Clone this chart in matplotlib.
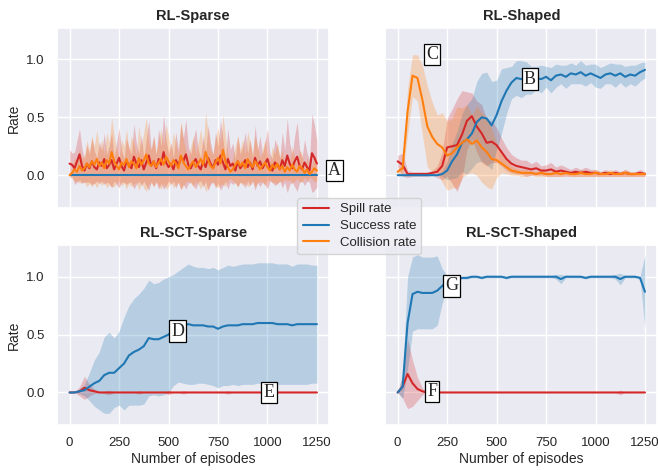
import numpy as np
import matplotlib
matplotlib.use("Agg")
import matplotlib.pyplot as plt
import seaborn as sns

# ---- data ----
titles = ["RL-Sparse", "RL-Shaped", "RL-SCT-Sparse", "RL-SCT-Shaped"]
series_labels = ["Spill rate", "Success rate", "Collision rate"]
xticks = [0, 250, 500, 750, 1000, 1250]
yticks = [0.0, 0.5, 1.0]

# RL-Sparse, every 12.5 episodes
ep_fine = np.linspace(0, 1250, 101)
sparse_spill = [
    0.10, 0.09, 0.06, 0.12, 0.18, 0.08, 0.04, 0.10, 0.06, 0.12,
    0.07, 0.05, 0.11, 0.08, 0.14, 0.06, 0.09, 0.13, 0.05, 0.10,
    0.15, 0.08, 0.04, 0.12, 0.09, 0.06, 0.16, 0.10, 0.07, 0.13,
    0.05, 0.11, 0.17, 0.08, 0.12, 0.06, 0.14, 0.09, 0.20, 0.11,
    0.07, 0.10, 0.05, 0.13, 0.08, 0.16, 0.12, 0.18, 0.09, 0.06,
    0.11, 0.14, 0.08, 0.05, 0.12, 0.07, 0.15, 0.10, 0.06, 0.13,
    0.09, 0.17, 0.11, 0.05, 0.14, 0.08, 0.10, 0.04, 0.12, 0.06,
    0.09, 0.13, 0.07, 0.11, 0.05, 0.15, 0.08, 0.12, 0.06, 0.10,
    0.14, 0.07, 0.04, 0.11, 0.09, 0.05, 0.13, 0.08, 0.17, 0.10,
    0.06, 0.12, 0.16, 0.08, 0.05, 0.11, 0.07, 0.04, 0.19, 0.15, 0.10]
sparse_spill_sd = [
    0.12, 0.10, 0.14, 0.18, 0.22, 0.15, 0.10, 0.16, 0.12, 0.20,
    0.14, 0.10, 0.18, 0.13, 0.22, 0.12, 0.16, 0.24, 0.10, 0.18,
    0.26, 0.14, 0.10, 0.20, 0.15, 0.12, 0.28, 0.18, 0.12, 0.22,
    0.10, 0.20, 0.30, 0.14, 0.22, 0.12, 0.26, 0.16, 0.32, 0.20,
    0.12, 0.18, 0.10, 0.24, 0.14, 0.28, 0.20, 0.30, 0.16, 0.12,
    0.20, 0.26, 0.14, 0.10, 0.22, 0.12, 0.28, 0.18, 0.12, 0.24,
    0.16, 0.30, 0.20, 0.10, 0.26, 0.14, 0.18, 0.10, 0.22, 0.12,
    0.16, 0.24, 0.12, 0.20, 0.10, 0.28, 0.14, 0.22, 0.12, 0.18,
    0.26, 0.12, 0.10, 0.20, 0.16, 0.10, 0.24, 0.14, 0.32, 0.18,
    0.12, 0.22, 0.30, 0.14, 0.10, 0.20, 0.12, 0.10, 0.34, 0.28, 0.20]
sparse_collision = [
    0.00, 0.02, 0.05, 0.03, 0.08, 0.04, 0.06, 0.10, 0.07, 0.12,
    0.09, 0.14, 0.08, 0.11, 0.06, 0.13, 0.10, 0.20, 0.12, 0.08,
    0.05, 0.11, 0.09, 0.14, 0.07, 0.12, 0.10, 0.06, 0.15, 0.09,
    0.13, 0.18, 0.10, 0.08, 0.12, 0.07, 0.11, 0.14, 0.09, 0.16,
    0.12, 0.08, 0.13, 0.10, 0.06, 0.17, 0.11, 0.08, 0.05, 0.09,
    0.12, 0.07, 0.10, 0.14, 0.09, 0.20, 0.13, 0.08, 0.06, 0.11,
    0.15, 0.10, 0.22, 0.12, 0.07, 0.03, 0.05, 0.09, 0.12, 0.08,
    0.11, 0.06, 0.14, 0.10, 0.07, 0.12, 0.09, 0.05, 0.08, 0.11,
    0.07, 0.04, 0.09, 0.06, 0.10, 0.05, 0.08, 0.03, 0.07, 0.04,
    0.09, 0.05, 0.03, 0.08, 0.06, 0.02, 0.05, 0.01, 0.03, 0.06, 0.04]
sparse_collision_sd = [
    0.00, 0.05, 0.10, 0.08, 0.15, 0.10, 0.12, 0.20, 0.14, 0.22,
    0.16, 0.25, 0.14, 0.20, 0.12, 0.24, 0.18, 0.30, 0.22, 0.15,
    0.10, 0.20, 0.16, 0.26, 0.14, 0.22, 0.18, 0.12, 0.28, 0.16,
    0.24, 0.32, 0.18, 0.14, 0.22, 0.12, 0.20, 0.26, 0.16, 0.28,
    0.22, 0.14, 0.24, 0.18, 0.12, 0.30, 0.20, 0.14, 0.10, 0.16,
    0.22, 0.12, 0.18, 0.26, 0.16, 0.34, 0.24, 0.14, 0.12, 0.20,
    0.26, 0.18, 0.30, 0.22, 0.12, 0.06, 0.10, 0.16, 0.22, 0.14,
    0.20, 0.12, 0.24, 0.18, 0.12, 0.22, 0.16, 0.10, 0.14, 0.20,
    0.12, 0.08, 0.16, 0.12, 0.18, 0.10, 0.14, 0.06, 0.12, 0.08,
    0.16, 0.10, 0.06, 0.14, 0.12, 0.04, 0.10, 0.03, 0.06, 0.12, 0.08]
sparse_success = [0.0] * 101
sparse_success_sd = [0.0] * 101

# other panels, every 25 episodes
ep = np.linspace(0, 1250, 51)

shaped_spill = [
    0.12, 0.09, 0.01, 0.01, 0.01, 0.01, 0.01, 0.02, 0.03, 0.08,
    0.24, 0.25, 0.26, 0.35, 0.47, 0.51, 0.42, 0.36, 0.28, 0.29,
    0.26, 0.20, 0.14, 0.10, 0.08, 0.07, 0.06, 0.05, 0.06, 0.04,
    0.04, 0.05, 0.03, 0.04, 0.03, 0.02, 0.03, 0.02, 0.03, 0.02,
    0.02, 0.01, 0.02, 0.01, 0.02, 0.01, 0.02, 0.01, 0.01, 0.02, 0.01]
shaped_spill_sd = [
    0.05, 0.10, 0.03, 0.02, 0.02, 0.02, 0.02, 0.02, 0.05, 0.12,
    0.25, 0.32, 0.40, 0.38, 0.25, 0.20, 0.22, 0.25, 0.20, 0.18,
    0.15, 0.12, 0.10, 0.08, 0.07, 0.06, 0.07, 0.05, 0.06, 0.04,
    0.05, 0.06, 0.04, 0.05, 0.04, 0.03, 0.04, 0.03, 0.04, 0.03,
    0.03, 0.02, 0.03, 0.02, 0.03, 0.02, 0.03, 0.02, 0.02, 0.03, 0.02]
shaped_success = [
    0.00, 0.00, 0.00, 0.00, 0.00, 0.00, 0.00, 0.00, 0.00, 0.01,
    0.04, 0.12, 0.18, 0.28, 0.31, 0.36, 0.46, 0.50, 0.49, 0.43,
    0.52, 0.64, 0.73, 0.80, 0.84, 0.83, 0.84, 0.82, 0.84, 0.83,
    0.85, 0.82, 0.86, 0.87, 0.85, 0.88, 0.87, 0.89, 0.86, 0.88,
    0.86, 0.84, 0.87, 0.88, 0.86, 0.88, 0.85, 0.87, 0.86, 0.89, 0.91]
shaped_success_sd = [
    0.00, 0.00, 0.00, 0.00, 0.00, 0.00, 0.00, 0.00, 0.00, 0.02,
    0.08, 0.15, 0.20, 0.25, 0.30, 0.30, 0.35, 0.38, 0.40, 0.38,
    0.30, 0.28, 0.20, 0.14, 0.15, 0.16, 0.14, 0.12, 0.10, 0.12,
    0.09, 0.11, 0.10, 0.08, 0.10, 0.09, 0.08, 0.10, 0.09, 0.08,
    0.10, 0.09, 0.08, 0.09, 0.10, 0.08, 0.09, 0.08, 0.09, 0.08, 0.07]
shaped_collision = [
    0.03, 0.06, 0.55, 0.86, 0.84, 0.65, 0.42, 0.33, 0.27, 0.24,
    0.17, 0.19, 0.24, 0.28, 0.31, 0.27, 0.30, 0.24, 0.20, 0.14,
    0.13, 0.10, 0.07, 0.04, 0.03, 0.02, 0.02, 0.02, 0.01, 0.02,
    0.01, 0.01, 0.02, 0.01, 0.02, 0.01, 0.01, 0.02, 0.01, 0.01,
    0.02, 0.01, 0.01, 0.02, 0.01, 0.01, 0.02, 0.01, 0.01, 0.01, 0.01]
shaped_collision_sd = [
    0.02, 0.05, 0.20, 0.18, 0.20, 0.30, 0.35, 0.30, 0.25, 0.30,
    0.30, 0.30, 0.35, 0.30, 0.30, 0.25, 0.30, 0.30, 0.30, 0.26,
    0.15, 0.08, 0.06, 0.04, 0.03, 0.03, 0.03, 0.02, 0.02, 0.03,
    0.02, 0.02, 0.03, 0.02, 0.02, 0.02, 0.02, 0.03, 0.02, 0.02,
    0.03, 0.02, 0.02, 0.03, 0.02, 0.02, 0.03, 0.02, 0.02, 0.02, 0.02]

sct_sparse_spill = [
    0.00, 0.00, 0.01, 0.04, 0.02, 0.01, 0.00, 0.00, 0.00, 0.00,
    0.00, 0.00, 0.00, 0.00, 0.00, 0.00, 0.00, 0.00, 0.00, 0.00,
    0.00, 0.00, 0.00, 0.00, 0.00, 0.00, 0.00, 0.00, 0.00, 0.00,
    0.00, 0.00, 0.00, 0.00, 0.00, 0.00, 0.00, 0.00, 0.00, 0.00,
    0.00, 0.00, 0.00, 0.00, 0.00, 0.00, 0.00, 0.00, 0.00, 0.00, 0.00]
sct_sparse_spill_sd = [
    0.00, 0.00, 0.04, 0.10, 0.05, 0.02, 0.00, 0.01, 0.02, 0.00,
    0.00, 0.00, 0.00, 0.00, 0.015, 0.00, 0.00, 0.00, 0.00, 0.00,
    0.02, 0.00, 0.00, 0.015, 0.00, 0.00, 0.00, 0.00, 0.00, 0.00,
    0.00, 0.00, 0.015, 0.00, 0.00, 0.00, 0.00, 0.00, 0.00, 0.00,
    0.00, 0.00, 0.00, 0.00, 0.00, 0.00, 0.00, 0.00, 0.00, 0.00, 0.00]
sct_sparse_success = [
    0.00, 0.00, 0.01, 0.02, 0.05, 0.08, 0.10, 0.15, 0.17, 0.17,
    0.21, 0.25, 0.32, 0.35, 0.37, 0.40, 0.47, 0.46, 0.46, 0.48,
    0.50, 0.54, 0.57, 0.58, 0.59, 0.58, 0.58, 0.58, 0.57, 0.57,
    0.55, 0.57, 0.58, 0.58, 0.58, 0.59, 0.59, 0.59, 0.60, 0.60,
    0.60, 0.60, 0.59, 0.59, 0.59, 0.58, 0.59, 0.59, 0.59, 0.59, 0.59]
sct_sparse_success_sd = [
    0.00, 0.00, 0.02, 0.05, 0.12, 0.20, 0.25, 0.33, 0.35, 0.30,
    0.32, 0.40, 0.43, 0.46, 0.48, 0.50, 0.50, 0.48, 0.49, 0.50,
    0.50, 0.48, 0.48, 0.50, 0.52, 0.51, 0.50, 0.50, 0.50, 0.51,
    0.51, 0.51, 0.52, 0.51, 0.52, 0.52, 0.52, 0.52, 0.52, 0.52,
    0.52, 0.52, 0.52, 0.52, 0.52, 0.51, 0.52, 0.52, 0.52, 0.51, 0.51]

sct_shaped_spill = [
    0.00, 0.05, 0.16, 0.08, 0.03, 0.01, 0.00, 0.00, 0.00, 0.00,
    0.00, 0.00, 0.00, 0.00, 0.00, 0.00, 0.00, 0.00, 0.00, 0.00,
    0.00, 0.00, 0.00, 0.00, 0.00, 0.00, 0.00, 0.00, 0.00, 0.00,
    0.00, 0.00, 0.00, 0.00, 0.00, 0.00, 0.00, 0.00, 0.00, 0.00,
    0.00, 0.00, 0.00, 0.00, 0.00, 0.00, 0.00, 0.00, 0.00, 0.00, 0.00]
sct_shaped_spill_sd = [
    0.00, 0.10, 0.30, 0.20, 0.10, 0.03, 0.00, 0.00, 0.00, 0.00,
    0.00, 0.00, 0.00, 0.00, 0.00, 0.00, 0.00, 0.00, 0.00, 0.00,
    0.00, 0.00, 0.00, 0.00, 0.00, 0.00, 0.00, 0.00, 0.00, 0.00,
    0.00, 0.00, 0.00, 0.00, 0.00, 0.00, 0.00, 0.00, 0.00, 0.00,
    0.00, 0.00, 0.00, 0.00, 0.00, 0.02, 0.00, 0.00, 0.00, 0.00, 0.00]
sct_shaped_success = [
    0.00, 0.05, 0.60, 0.85, 0.87, 0.86, 0.86, 0.86, 0.88, 0.92,
    0.96, 0.98, 0.98, 0.99, 0.99, 1.00, 1.00, 0.99, 1.00, 1.00,
    1.00, 1.00, 0.99, 1.00, 1.00, 1.00, 1.00, 1.00, 1.00, 1.00,
    1.00, 1.00, 1.00, 0.98, 1.00, 1.00, 1.00, 1.00, 0.99, 1.00,
    1.00, 1.00, 1.00, 1.00, 1.00, 0.98, 1.00, 1.00, 1.00, 0.99, 0.87]
sct_shaped_success_sd = [
    0.00, 0.10, 0.40, 0.32, 0.32, 0.31, 0.31, 0.31, 0.30, 0.15,
    0.05, 0.02, 0.02, 0.01, 0.01, 0.01, 0.01, 0.01, 0.01, 0.01,
    0.01, 0.01, 0.01, 0.01, 0.01, 0.01, 0.01, 0.01, 0.01, 0.01,
    0.01, 0.01, 0.02, 0.04, 0.01, 0.01, 0.01, 0.01, 0.01, 0.01,
    0.01, 0.01, 0.01, 0.01, 0.02, 0.05, 0.01, 0.01, 0.01, 0.01, 0.32]

panels = [
    (ep_fine, [(sparse_spill, sparse_spill_sd), (sparse_success, sparse_success_sd),
               (sparse_collision, sparse_collision_sd)]),
    (ep, [(shaped_spill, shaped_spill_sd), (shaped_success, shaped_success_sd),
          (shaped_collision, shaped_collision_sd)]),
    (ep, [(sct_sparse_spill, sct_sparse_spill_sd), (sct_sparse_success, sct_sparse_success_sd), None]),
    (ep, [(sct_shaped_spill, sct_shaped_spill_sd), (sct_shaped_success, sct_shaped_success_sd), None]),
]

# boxed markers: (panel, letter, episode, rate)
markers = [
    (0, "A", 1340, 0.04),
    (1, "B", 668, 0.83),
    (1, "C", 174, 1.04),
    (2, "D", 547, 0.53),
    (2, "E", 1007, 0.0),
    (3, "F", 174, 0.01),
    (3, "G", 273, 0.92),
]

colors = ["tab:red", "tab:blue", "tab:orange"]

sns.set_theme(style="darkgrid")
plt.rcParams["font.family"] = ["Liberation Sans", "DejaVu Sans"]

fig = plt.figure(figsize=(6.58, 4.70), dpi=100)
axes = fig.subplots(2, 2, sharex=True, sharey=True)
fig.subplots_adjust(left=0.087, right=0.999, top=0.94, bottom=0.096,
                    wspace=0.206, hspace=0.211)

handles = []
for i, (ax, (x, series)) in enumerate(zip(axes.flat, panels)):
    for j, s in enumerate(series):
        if s is None:
            continue
        m = np.asarray(s[0])
        sd = np.asarray(s[1])
        ax.fill_between(x, m - sd, m + sd, color=colors[j], alpha=0.25, lw=0)
        line, = ax.plot(x, m, color=colors[j], lw=1.5, label=series_labels[j])
        if i == 1:
            handles.append(line)
    ax.set_title(titles[i], fontsize=10.5, fontweight="bold")
    ax.set_xlim(-62.5, 1312.5)
    ax.set_ylim(-0.28, 1.27)
    ax.set_xticks(xticks)
    ax.set_yticks(yticks)
    ax.tick_params(labelsize=9.5, pad=3)

for ax in axes[:, 0]:
    ax.set_ylabel("Rate", fontsize=10)
for ax in axes[1, :]:
    ax.set_xlabel("Number of episodes", fontsize=10, labelpad=2)

for k, letter, xe, yr in markers:
    axes.flat[k].text(xe, yr, letter, family=["Liberation Serif"], fontsize=13,
                      ha="center", va="center", zorder=10,
                      bbox=dict(boxstyle="square,pad=0.12", fc="white", ec="black", lw=0.9))

fig.legend(handles, series_labels, loc="upper left", bbox_to_anchor=(0.442, 0.593),
           fontsize=9.5, handlelength=2.0, borderpad=0.4, labelspacing=0.35)

fig.savefig("out.png", dpi=100)
